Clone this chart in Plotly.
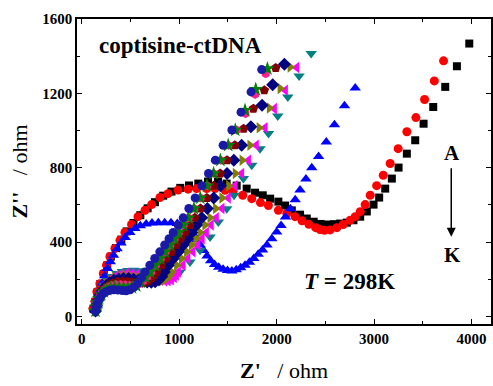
import plotly.graph_objects as go

# ---- data (Z' , Z'' in ohm) ----
A_x = [120,140,160,190,225,260,297,350,405,460,530,600,675,750,835,920,1010,1100,1195,1295,1398,1486,1589,1692,1778,1857,1933,2017,2086,2155,2240,2309,2380,2450,2520,2590,2652,2720,2788,2857,2925,2994,3052,3114,3182,3251,3336,3422,3508,3607,3730,3850,3977]
A_y = [40,80,130,175,228,275,322,368,414,458,503,545,582,615,650,672,692,705,715,726,726,715,704,688,666,652,634,618,597,571,548,527,510,498,495,497,500,505,518,537,565,602,640,688,742,801,876,948,1037,1127,1235,1346,1468]

B_x = [113,134,154,185,220,253,288,339,391,442,510,576,648,716,802,884,987,1090,1178,1281,1367,1470,1552,1651,1744,1833,1915,2017,2104,2188,2260,2330,2400,2445,2490,2549,2617,2683,2754,2806,2857,2908,2960,3026,3094,3165,3247,3336,3429,3518,3618,3713]
B_y = [43,81,134,177,231,276,323,366,410,452,495,537,571,602,640,661,680,685,688,688,688,679,672,652,634,613,597,571,554,537,515,496,478,468,464,466,478,495,518,537,564,602,652,704,760,823,903,994,1070,1167,1267,1375]

C_x = [157,172,190,210,235,262,292,325,362,402,445,493,545,600,660,720,785,850,915,980,1040,1095,1140,1180,1215,1250,1285,1322,1362,1405,1450,1495,1540,1585,1630,1675,1720,1765,1810,1855,1900,1950,2000,2045,2090,2140,2190,2240,2300,2360,2430,2509,2593,2696,2806]
C_y = [61,100,140,180,220,258,295,330,364,395,425,452,473,488,498,503,505,505,504,500,490,470,445,415,385,355,325,300,280,265,255,248,245,252,262,276,292,312,335,358,385,419,455,490,535,580,628,680,740,800,860,939,1032,1133,1229]

D_x = [140,154,173,197,228,266,310,360,415,472,530,585,636,684,728,768,805,840,872,900,925,965,1007,1110,1213,1316,1401,1487,1562,1658,1744,1829,1916,2011,2114,2230,2354]
D_y = [30,64,100,134,166,194,216,232,242,248,249,246,240,232,224,216,208,200,195,195,204,220,240,294,357,428,509,580,652,742,814,903,984,1079,1181,1294,1414]

E_x = [140,153,171,194,224,260,302,350,403,458,514,568,620,670,718,764,808,848,885,918,948,970,990,1038,1088,1140,1190,1235,1278,1328,1380,1438,1503,1572,1640,1710,1790,1880,1976,2089,2205]
E_y = [30,62,96,128,158,184,205,220,228,232,231,227,221,214,207,200,195,193,193,198,210,224,240,276,312,348,385,419,452,492,531,581,638,703,769,841,921,1015,1118,1217,1339]

F_x = [140,152,169,191,219,253,293,339,390,443,497,550,600,648,695,740,782,820,852,880,903,923,973,1023,1075,1125,1170,1213,1263,1315,1373,1438,1507,1575,1645,1725,1820,1925,2035,2138]
F_y = [30,60,92,122,150,174,194,208,216,219,218,214,208,202,196,192,190,192,198,208,222,240,276,312,348,385,419,452,492,531,581,638,703,769,841,921,1015,1122,1226,1342]

G_x = [140,151,167,188,214,246,284,328,377,428,480,530,578,625,670,712,752,790,820,845,888,938,990,1040,1085,1128,1178,1230,1288,1353,1422,1490,1560,1640,1735,1850,1959,2079]
G_y = [30,58,88,116,142,164,182,195,202,205,204,200,195,190,186,184,187,198,215,240,276,312,348,385,419,452,492,531,581,638,703,769,841,921,1020,1136,1247,1357]

H_x = [140,150,165,185,210,240,276,318,365,415,465,510,555,598,640,680,715,745,768,818,868,920,970,1015,1058,1108,1160,1218,1283,1352,1420,1490,1570,1660,1761,1873,1990]
H_y = [30,56,84,110,134,154,170,181,187,189,188,185,182,180,182,190,205,222,240,276,312,348,385,419,452,492,531,581,638,703,769,841,921,1010,1118,1217,1337]

I_x = [140,149,163,181,204,232,265,304,348,396,444,490,535,580,625,668,712,760,810,860,908,952,995,1045,1097,1155,1220,1288,1355,1425,1505,1590,1680,1778,1887]
I_y = [30,54,80,104,126,144,158,167,172,173,171,168,167,172,188,212,240,276,312,348,385,419,452,492,531,581,638,703,769,841,921,1003,1090,1194,1306]

J_x = [140,148,161,178,199,225,257,294,336,382,428,472,515,558,605,652,700,750,800,852,902,947,990,1040,1092,1150,1215,1284,1352,1422,1502,1575,1675,1785,1905]
J_y = [30,52,76,98,118,134,146,154,158,158,156,154,156,166,186,212,240,276,312,348,385,419,452,492,531,581,638,703,769,841,921,1003,1109,1222,1333]

K_x = [140,148,160,176,196,220,250,285,325,370,415,455,495,535,575,612,648,698,748,800,850,895,938,988,1040,1098,1163,1232,1300,1370,1450,1540,1634,1737,1846]
K_y = [30,50,72,92,110,124,134,141,144,143,140,139,144,158,180,210,240,276,312,348,385,419,452,492,531,581,638,703,769,841,921,1003,1099,1208,1328]

series = [
    ("A", A_x, A_y, "square", "#000000", 8),
    ("B", B_x, B_y, "circle", "#FF0000", 9),
    ("C", C_x, C_y, "triangle-up", "#0000FF", 10),
    ("D", D_x, D_y, "triangle-down", "#008080", 10),
    ("E", E_x, E_y, "triangle-left", "#FF00FF", 10),
    ("F", F_x, F_y, "triangle-right", "#808000", 10),
    ("G", G_x, G_y, "diamond", "#000080", 10),
    ("H", H_x, H_y, "pentagon", "#800000", 10),
    ("I", I_x, I_y, "hexagon", "#FF1E8C", 9),
    ("J", J_x, J_y, "star", "#008000", 11),
    ("K", K_x, K_y, "circle", "#1A1AA6", 9),
]

FONT = "Liberation Serif"

fig = go.Figure()
for name, xs, ys, sym, col, sz in series:
    fig.add_trace(go.Scatter(
        x=xs, y=ys, mode="markers", name=name,
        marker=dict(symbol=sym, color=col, size=sz, line=dict(width=0)),
        showlegend=False,
    ))

axis_common = dict(
    showline=True, linecolor="black", linewidth=1.5, mirror="allticks",
    ticks="inside", ticklen=5, tickwidth=1.2, tickcolor="black",
    showgrid=False, zeroline=False,
    tickfont=dict(family=FONT, size=15, color="black", weight="bold"),
)

fig.update_xaxes(
    range=[-50, 4200], tickvals=[0, 1000, 2000, 3000, 4000],
    minor=dict(dtick=500, tick0=0, ticks="inside", ticklen=3, tickcolor="black", tickwidth=1.2),
    title=dict(text="<b>Z'</b>\u00a0\u00a0 / ohm", font=dict(family=FONT, size=22, color="black"), standoff=17),
    **axis_common,
)
fig.update_yaxes(
    range=[-40, 1600], tickvals=[0, 400, 800, 1200, 1600],
    minor=dict(dtick=200, tick0=0, ticks="inside", ticklen=3, tickcolor="black", tickwidth=1.2),
    title=dict(text="<b>Z''</b>\u00a0\u00a0 / ohm", font=dict(family=FONT, size=22, color="black"), standoff=9),
    **axis_common,
)

fig.update_layout(
    width=493, height=386,
    margin=dict(l=77, r=2, t=19, b=62, autoexpand=False),
    plot_bgcolor="white", paper_bgcolor="white",
    annotations=[
        dict(text="<b>coptisine-ctDNA</b>", x=0.249, y=0.912, xref="paper", yref="paper",
             showarrow=False, xanchor="center", yanchor="middle",
             font=dict(family=FONT, size=23, color="black")),
        dict(text="<b>A</b>", x=0.9065, y=0.561, xref="paper", yref="paper",
             showarrow=False, xanchor="center", yanchor="middle",
             font=dict(family=FONT, size=21, color="black")),
        dict(text="<b>K</b>", x=0.9065, y=0.227, xref="paper", yref="paper",
             showarrow=False, xanchor="center", yanchor="middle",
             font=dict(family=FONT, size=21, color="black")),
        dict(text="", x=0.904, y=0.286, xref="paper", yref="paper",
             showarrow=True, ax=0, ay=-70, arrowhead=2, arrowsize=1.2, arrowwidth=1.5,
             arrowcolor="black"),
        dict(text="<b><i>T</i> = 298K</b>", x=0.6575, y=0.1386, xref="paper", yref="paper",
             showarrow=False, xanchor="center", yanchor="middle",
             font=dict(family=FONT, size=23, color="black")),
    ],
)

fig.write_html("out.html")
